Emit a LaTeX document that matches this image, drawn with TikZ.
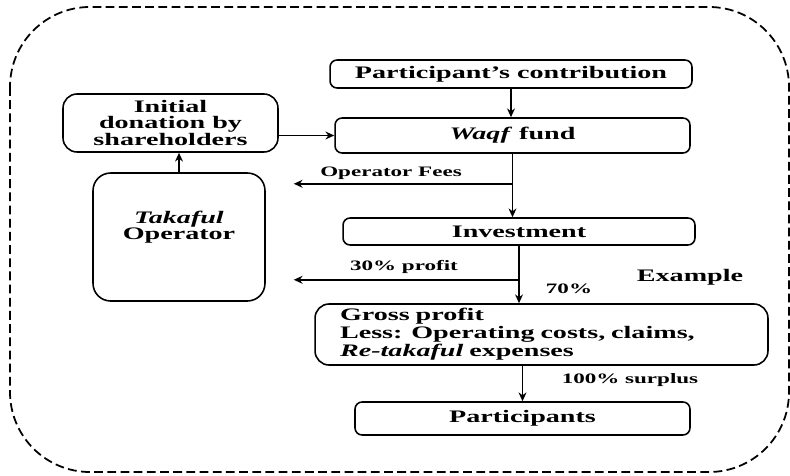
\documentclass[tikz,border=0pt]{standalone}
\usepackage{fontspec}
\setmainfont[FakeStretch=1.6]{Liberation Serif}
\usetikzlibrary{arrows.meta}

\begin{document}
\begin{tikzpicture}[x=0.02cm, y=-0.02cm,
    box/.style={draw, line width=0.9pt, rounded corners=4pt, inner sep=0pt,
      font=\bfseries\fontsize{10}{9}\selectfont},
    lbl/.style={inner sep=0pt, font=\bfseries\fontsize{8.2}{9}\selectfont},
    flow/.style={line width=0.9pt, -{Stealth[length=5pt, width=4.5pt]}}]

    \useasboundingbox (0,0) rectangle (790,476);

    \draw[line width=1pt, dash pattern=on 5pt off 2.5pt, rounded corners=1.6cm]
      (10,7) rectangle (789,472);



    \node[box, minimum width=7.24cm, minimum height=0.56cm] (contrib) at (511,74)
      {Participant’s contribution};

    \node[box, minimum width=7.1cm, minimum height=0.7cm] (waqf) at (512.5,135.5)
      {\textit{Waqf} fund};

    \node[box, rounded corners=8pt, minimum width=4.3cm, minimum height=1.16cm, align=center]
      (donation) at (170.5,123) {Initial\\donation by\\shareholders};

    \node[box, rounded corners=10pt, minimum width=3.44cm, minimum height=2.56cm, align=center]
      (operator) at (179,237) {\textit{Takaful}\\Operator\\[4pt]};

    \node[box, minimum width=7.04cm, minimum height=0.54cm] (investment) at (519,231.5)
      {Investment};

    \node[box, rounded corners=8pt, text width=8.06cm, inner xsep=0.5cm, minimum height=1.22cm,
      align=left] (gross) at (541.5,334.5)
      {Gross profit\\Less: Operating costs, claims,\\\textit{Re-takaful} expenses};

    \node[box, minimum width=6.7cm, minimum height=0.66cm] (participants) at (522.5,418.5)
      {Participants};



    \path (waqf.south) ++(0,30) coordinate (fees);

    \path (investment.south) ++(0,34) coordinate (profit);

    \draw[flow] (contrib.south) -- (contrib.south |- waqf.north);

    \draw[flow] (donation.east |- waqf.west) -- (waqf.west);

    \draw[flow] (operator.north) -- (operator.north |- donation.south);

    \draw[flow] (waqf.south) -- (waqf.south |- investment.north);

    \draw[flow, shorten >=0.56cm] (fees) -- (fees -| operator.east);

    \draw[flow] (investment.south) -- (investment.south |- gross.north);

    \draw[flow, shorten >=0.56cm] (profit) -- (profit -| operator.east);

    \draw[flow] (participants.north |- gross.south) -- (participants.north);



    \node[lbl] (feeslbl) at (391,173) {Operator Fees};

    \node[lbl] (profitlbl) at (404,267) {30\% profit};

    \node[lbl] (sharelbl) at (569,289) {70\%};

    \node[lbl, font=\bfseries\fontsize{10}{9}\selectfont] (examplelbl) at (690,277) {Example};

    \node[lbl] (surpluslbl) at (630,380) {100\% surplus};

  \end{tikzpicture}
\end{document}
